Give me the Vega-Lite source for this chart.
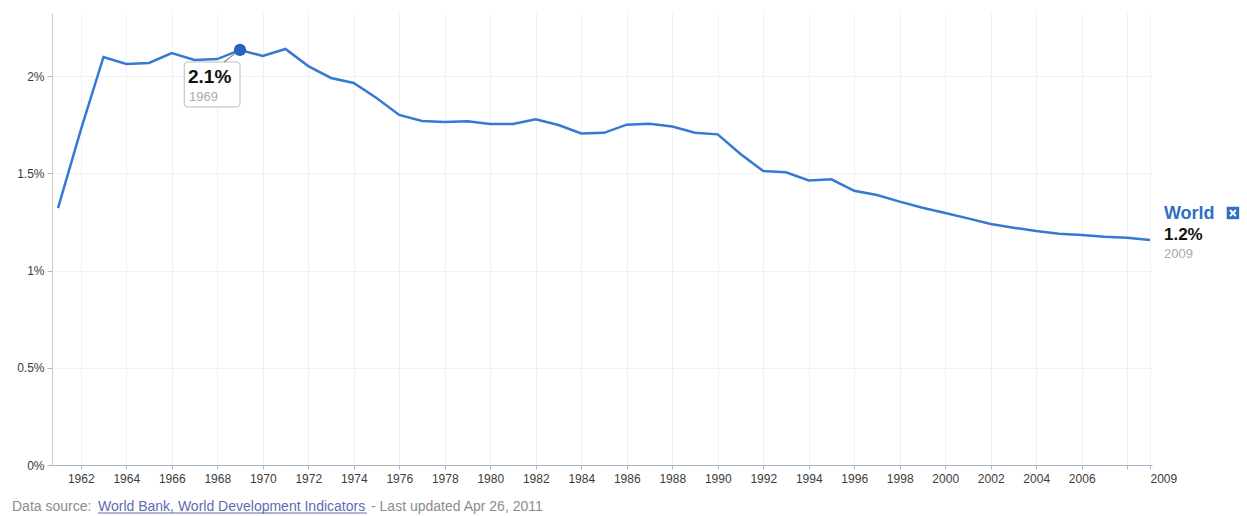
{
  "$schema": "https://vega.github.io/schema/vega-lite/v6.json",
  "width": 1100,
  "height": 452,
  "autosize": "none",
  "padding": {"left": 52, "top": 13, "right": 95, "bottom": 51},
  "background": "white",
  "config": {
    "font": "Liberation Sans",
    "view": {"stroke": null},
    "axis": {"labelFont": "Liberation Sans", "labelFontSize": 12, "labelColor": "#3c3c3c", "domainColor": "#a9b8c8", "tickColor": "#a9b8c8"}
  },
  "data": {"values": [
    {"year": 1961, "value": 1.321},
    {"year": 1962, "value": 1.722},
    {"year": 1963, "value": 2.098},
    {"year": 1964, "value": 2.062},
    {"year": 1965, "value": 2.067},
    {"year": 1966, "value": 2.118},
    {"year": 1967, "value": 2.082},
    {"year": 1968, "value": 2.087},
    {"year": 1969, "value": 2.134},
    {"year": 1970, "value": 2.103},
    {"year": 1971, "value": 2.139},
    {"year": 1972, "value": 2.051},
    {"year": 1973, "value": 1.990},
    {"year": 1974, "value": 1.964},
    {"year": 1975, "value": 1.887},
    {"year": 1976, "value": 1.800},
    {"year": 1977, "value": 1.769},
    {"year": 1978, "value": 1.763},
    {"year": 1979, "value": 1.767},
    {"year": 1980, "value": 1.753},
    {"year": 1981, "value": 1.753},
    {"year": 1982, "value": 1.777},
    {"year": 1983, "value": 1.748},
    {"year": 1984, "value": 1.705},
    {"year": 1985, "value": 1.708},
    {"year": 1986, "value": 1.750},
    {"year": 1987, "value": 1.755},
    {"year": 1988, "value": 1.740},
    {"year": 1989, "value": 1.708},
    {"year": 1990, "value": 1.700},
    {"year": 1991, "value": 1.599},
    {"year": 1992, "value": 1.512},
    {"year": 1993, "value": 1.505},
    {"year": 1994, "value": 1.463},
    {"year": 1995, "value": 1.469},
    {"year": 1996, "value": 1.410},
    {"year": 1997, "value": 1.388},
    {"year": 1998, "value": 1.354},
    {"year": 1999, "value": 1.323},
    {"year": 2000, "value": 1.296},
    {"year": 2001, "value": 1.268},
    {"year": 2002, "value": 1.239},
    {"year": 2003, "value": 1.220},
    {"year": 2004, "value": 1.203},
    {"year": 2005, "value": 1.189},
    {"year": 2006, "value": 1.183},
    {"year": 2007, "value": 1.174},
    {"year": 2008, "value": 1.169},
    {"year": 2009, "value": 1.157}
  ]},
  "layer": [
    {
      "mark": {"type": "line", "color": "#3678d2", "strokeWidth": 2.5, "clip": false},
      "encoding": {
        "x": {
          "field": "year", "type": "quantitative",
          "scale": {"domain": [1960.736, 2009.09], "nice": false, "zero": false},
          "axis": {
            "title": null,
            "values": [1962, 1964, 1966, 1968, 1970, 1972, 1974, 1976, 1978, 1980, 1982, 1984, 1986, 1988, 1990, 1992, 1994, 1996, 1998, 2000, 2002, 2004, 2006, 2008, 2009],
            "labelExpr": "datum.value == 2008 ? '' : '' + datum.value",
            "labelAlign": {"condition": {"test": "datum.value == 2009", "value": "left"}, "value": "center"},
            "tickSize": 4, "labelPadding": 4,
            "grid": true, "gridColor": "#edf1f7",
            "labelFlush": false, "labelOverlap": false
          }
        },
        "y": {
          "field": "value", "type": "quantitative",
          "scale": {"domain": [0, 2.324], "nice": false},
          "axis": {
            "title": null,
            "values": [0, 0.5, 1, 1.5, 2],
            "labelExpr": "datum.value + '%'",
            "tickSize": 5, "labelPadding": 3,
            "domainColor": "#d9c6b6",
            "grid": true, "gridColor": "#f3f3f3"
          }
        }
      }
    },
    {
      "data": {"values": [{}]},
      "mark": {"type": "rect", "fill": "#e6e6e6", "xOffset": 1.5, "yOffset": 1.5, "cornerRadius": 3},
      "encoding": {
        "x": {"datum": 1966.55, "type": "quantitative"},
        "x2": {"datum": 1969.0},
        "y": {"datum": 2.072, "type": "quantitative"},
        "y2": {"datum": 1.841}
      }
    },
    {
      "data": {"values": [{}]},
      "mark": {"type": "rect", "fill": "white", "stroke": "#bdbdbd", "strokeWidth": 1, "cornerRadius": 3},
      "encoding": {
        "x": {"datum": 1966.55, "type": "quantitative"},
        "x2": {"datum": 1969.0},
        "y": {"datum": 2.072, "type": "quantitative"},
        "y2": {"datum": 1.841}
      }
    },
    {
      "data": {"values": [{}]},
      "mark": {"type": "rule", "stroke": "#8a8a8a", "strokeWidth": 1.2},
      "encoding": {
        "x": {"datum": 1968.3, "type": "quantitative"},
        "x2": {"datum": 1968.9},
        "y": {"datum": 2.072, "type": "quantitative"},
        "y2": {"datum": 2.128}
      }
    },
    {
      "transform": [{"filter": "datum.year == 1969"}],
      "mark": {"type": "point", "filled": true, "color": "#2b62bd", "size": 150, "opacity": 1},
      "encoding": {
        "x": {"field": "year", "type": "quantitative"},
        "y": {"field": "value", "type": "quantitative"}
      }
    },
    {
      "transform": [{"filter": "datum.year == 1969"}],
      "mark": {"type": "text", "align": "left", "baseline": "alphabetic", "dx": -52, "dy": 33, "fontSize": 19, "fontWeight": "bold", "color": "#111111"},
      "encoding": {
        "x": {"field": "year", "type": "quantitative"},
        "y": {"field": "value", "type": "quantitative"},
        "text": {"value": "2.1%"}
      }
    },
    {
      "transform": [{"filter": "datum.year == 1969"}],
      "mark": {"type": "text", "align": "left", "baseline": "alphabetic", "dx": -51, "dy": 51, "fontSize": 13, "color": "#aaaaaa"},
      "encoding": {
        "x": {"field": "year", "type": "quantitative"},
        "y": {"field": "value", "type": "quantitative"},
        "text": {"field": "year", "type": "nominal"}
      }
    },
    {
      "transform": [{"filter": "datum.year == 2009"}],
      "mark": {"type": "text", "align": "left", "baseline": "alphabetic", "dx": 14, "dy": -21, "fontSize": 18, "fontWeight": "bold", "color": "#2f6fc4"},
      "encoding": {
        "x": {"field": "year", "type": "quantitative"},
        "y": {"field": "value", "type": "quantitative"},
        "text": {"value": "World"}
      }
    },
    {
      "transform": [{"filter": "datum.year == 2009"}],
      "mark": {"type": "text", "align": "left", "baseline": "alphabetic", "dx": 14, "dy": 0, "fontSize": 17, "fontWeight": "bold", "color": "#111111"},
      "encoding": {
        "x": {"field": "year", "type": "quantitative"},
        "y": {"field": "value", "type": "quantitative"},
        "text": {"value": "1.2%"}
      }
    },
    {
      "transform": [{"filter": "datum.year == 2009"}],
      "mark": {"type": "text", "align": "left", "baseline": "alphabetic", "dx": 14, "dy": 18, "fontSize": 13, "color": "#aaaaaa"},
      "encoding": {
        "x": {"field": "year", "type": "quantitative"},
        "y": {"field": "value", "type": "quantitative"},
        "text": {"field": "year", "type": "nominal"}
      }
    },
    {
      "transform": [{"filter": "datum.year == 2009"}],
      "mark": {"type": "point", "shape": "square", "filled": true, "color": "#2f6fc4", "size": 155, "opacity": 1, "xOffset": 83, "yOffset": -27},
      "encoding": {
        "x": {"field": "year", "type": "quantitative"},
        "y": {"field": "value", "type": "quantitative"}
      }
    },
    {
      "transform": [{"filter": "datum.year == 2009"}],
      "mark": {"type": "point", "shape": "M-1,-1L1,1M1,-1L-1,1", "filled": false, "stroke": "white", "strokeWidth": 2, "size": 36, "opacity": 1, "xOffset": 83, "yOffset": -27},
      "encoding": {
        "x": {"field": "year", "type": "quantitative"},
        "y": {"field": "value", "type": "quantitative"}
      }
    },
    {
      "data": {"values": [{}]},
      "mark": {"type": "text", "align": "left", "baseline": "alphabetic", "dx": -46, "dy": 46, "fontSize": 14, "color": "#8c8c8c"},
      "encoding": {
        "x": {"datum": 1961, "type": "quantitative"},
        "y": {"datum": 0, "type": "quantitative"},
        "text": {"value": "Data source: "}
      }
    },
    {
      "data": {"values": [{}]},
      "mark": {"type": "text", "align": "left", "baseline": "alphabetic", "dx": 40, "dy": 46, "fontSize": 14, "color": "#5a6db3"},
      "encoding": {
        "x": {"datum": 1961, "type": "quantitative"},
        "y": {"datum": 0, "type": "quantitative"},
        "text": {"value": "World Bank, World Development Indicators"}
      }
    },
    {
      "data": {"values": [{}]},
      "mark": {"type": "text", "align": "left", "baseline": "alphabetic", "dx": 313, "dy": 46, "fontSize": 14, "color": "#8c8c8c"},
      "encoding": {
        "x": {"datum": 1961, "type": "quantitative"},
        "y": {"datum": 0, "type": "quantitative"},
        "text": {"value": "- Last updated Apr 26, 2011"}
      }
    },
    {
      "data": {"values": [{}]},
      "mark": {"type": "rule", "stroke": "#5a6db3", "strokeWidth": 1, "yOffset": 48},
      "encoding": {
        "x": {"datum": 1962.76, "type": "quantitative"},
        "x2": {"datum": 1974.58},
        "y": {"datum": 0, "type": "quantitative"}
      }
    }
  ]
}
